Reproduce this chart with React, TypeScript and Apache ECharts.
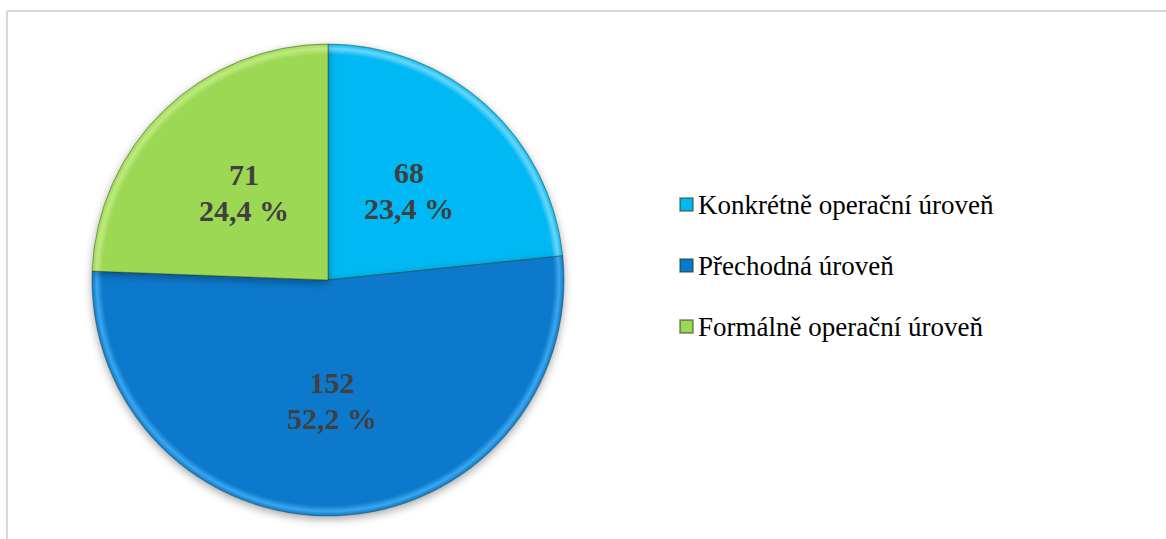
import React, { useEffect, useRef } from "react";
import * as echarts from "echarts";

const categories = ["Konkrétně operační úroveň", "Přechodná úroveň", "Formálně operační úroveň"];
const values = [68, 152, 71];
const colors = ["#02B8F3", "#0779CC", "#9DD855"];
const rimColors = ["#6AD6FF", "#3DA6EE", "#BDEB7E"];

const CX = 328;
const CY = 280;
const R = 236;
const SERIF = "'Liberation Serif', 'Times New Roman', 'DejaVu Serif', serif";

export default function App() {
  const ref = useRef<HTMLDivElement>(null);
  useEffect(() => {
    if (!ref.current) return;
    const chart = echarts.init(ref.current, null, { renderer: "svg" });
    const data = categories.map((name, i) => ({
      name,
      value: values[i],
      itemStyle: {
        color: new echarts.graphic.RadialGradient(
          CX,
          CY,
          R,
          [
            { offset: 0, color: colors[i] },
            { offset: 0.955, color: colors[i] },
            { offset: 0.98, color: rimColors[i] },
            { offset: 1, color: colors[i] },
          ],
          true
        ),
      },
    }));
    chart.setOption({
      animation: false,
      backgroundColor: "#ffffff",
      color: colors,
      legend: {
        orient: "vertical",
        left: 679,
        top: 191,
        padding: 0,
        itemWidth: 13,
        itemHeight: 13,
        itemGap: 34,
        icon: "rect",
        textStyle: {
          fontFamily: SERIF,
          fontSize: 27,
          lineHeight: 27,
          color: "#000000",
        },
        data: categories.map((name, i) => ({ name, itemStyle: { color: colors[i] } })),
      },
      graphic: [
        {
          type: "line",
          shape: { x1: 7, y1: 11, x2: 1166, y2: 11 },
          style: { stroke: "#d9d9d9", lineWidth: 2 },
        },
        {
          type: "line",
          shape: { x1: 7, y1: 11, x2: 7, y2: 539 },
          style: { stroke: "#d9d9d9", lineWidth: 2 },
        },
      ],
      series: [
        {
          type: "pie",
          center: [CX, CY],
          radius: [0, R],
          startAngle: 90,
          clockwise: true,
          avoidLabelOverlap: false,
          emphasis: { disabled: true },
          itemStyle: {
            borderColor: "rgba(40,60,20,0.45)",
            borderWidth: 1,
            shadowColor: "rgba(0,0,0,0.35)",
            shadowBlur: 8,
            shadowOffsetY: 3,
          },
          label: {
            show: true,
            position: "inside",
            fontFamily: SERIF,
            fontWeight: "bold",
            fontSize: 30,
            lineHeight: 36,
            color: "#404040",
            formatter: (p: any) => `${p.value}\n${p.percent.toFixed(1).replace(".", ",")} %`,
          },
          labelLine: { show: false },
          data,
        },
      ],
    });
    return () => chart.dispose();
  }, []);
  return (
    <div
      ref={ref}
      style={{ position: "fixed", left: 0, top: 0, width: 1166, height: 539 }}
    />
  );
}
